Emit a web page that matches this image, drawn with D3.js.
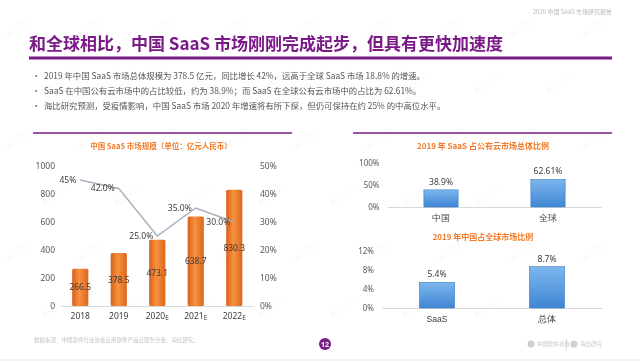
<!DOCTYPE html>
<html>
<head>
<meta charset="utf-8">
<script src="https://cdn.jsdelivr.net/npm/d3@7"></script>
<style>
  body { margin: 0; background: #fff; }
  svg { display: block; font-family: "Noto Sans CJK SC", "Noto Sans", sans-serif; }
</style>
</head>
<body>
<div id="chart"></div>
<script>
// data
var years = ["2018", "2019", "2020", "2021", "2022"];
var yearSuffix = ["", "", "E", "E", "E"];
var marketSize = [266.5, 378.5, 473.1, 638.7, 830.3];
var growth = [45, 42.0, 25.0, 35.0, 30.0];
var growthLabels = ["45%", "42.0%", "25.0%", "35.0%", "30.0%"];
var leftTicks = [0, 200, 400, 600, 800, 1000];
var rightTicks = [0, 10, 20, 30, 40, 50];

var cloudCats = ["中国", "全球"];
var cloudShare = [38.9, 62.61];
var cloudLabels = ["38.9%", "62.61%"];
var cloudTicks = [0, 50, 100];

var globalCats = ["SaaS", "总体"];
var globalShare = [5.4, 8.7];
var globalLabels = ["5.4%", "8.7%"];
var globalTicks = [0, 4, 8, 12];

var bullets = [
    "2019 年中国 SaaS 市场总体规模为 378.5 亿元，同比增长 42%，远高于全球 SaaS 市场 18.8% 的增速。",
    "SaaS 在中国公有云市场中的占比较低，约为 38.9%；而 SaaS 在全球公有云市场中的占比为 62.61%。",
    "海比研究预测，受疫情影响，中国 SaaS 市场 2020 年增速将有所下探，但仍可保持在约 25% 的中高位水平。"
];

var W = 640, H = 362;
var purple = "#7a1a86", orange = "#f07b2b", grey = "#595959";

var svg = d3.select("#chart").append("svg").attr("width", W).attr("height", H);

var defs = svg.append("defs");
var og = defs.append("linearGradient").attr("id", "orangeGrad").attr("x1", 0).attr("x2", 1).attr("y1", 0).attr("y2", 0);
og.append("stop").attr("offset", "0%").attr("stop-color", "#d9601a");
og.append("stop").attr("offset", "45%").attr("stop-color", "#f7923f");
og.append("stop").attr("offset", "100%").attr("stop-color", "#dc651c");
var bg = defs.append("linearGradient").attr("id", "blueGrad").attr("x1", 0).attr("x2", 0).attr("y1", 0).attr("y2", 1);
bg.append("stop").attr("offset", "0%").attr("stop-color", "#7db6ee");
bg.append("stop").attr("offset", "100%").attr("stop-color", "#3f86d4");

// faint watermark (kept inside the picture)
var wm = svg.append("g").attr("fill", "#000").attr("opacity", 0.035).style("font-size", "8px");
for (var wy = 40; wy < H - 5; wy += 56) {
    for (var wx = 8 + ((wy - 40) / 56 % 2) * 36; wx < W - 40; wx += 72) {
        wm.append("text").attr("transform", "translate(" + wx + "," + wy + ") rotate(-40)")
            .text("海比研究");
    }
}

// header
svg.append("text").attr("x", 612).attr("y", 14).attr("text-anchor", "end")
    .attr("fill", "#bbb").style("font-size", "6px").text("2020 中国 SaaS 市场研究报告");
svg.append("text").attr("x", 29).attr("y", 50).attr("fill", purple)
    .style("font-size", "17px").style("font-weight", "bold")
    .text("和全球相比，中国 SaaS 市场刚刚完成起步，但具有更快加速度");
svg.append("rect").attr("x", 29).attr("y", 56.5).attr("width", 583).attr("height", 3).attr("fill", purple);

var bl = svg.append("g").attr("fill", "#555").style("font-size", "8.4px");
bullets.forEach(function (t, i) {
    bl.append("text").attr("x", 32).attr("y", 79 + i * 15).text("•");
    bl.append("text").attr("x", 44).attr("y", 79 + i * 15).text(t);
});

// top separator lines of chart panels
svg.append("line").attr("x1", 33).attr("x2", 292).attr("y1", 133).attr("y2", 133).attr("stroke", purple).attr("stroke-width", 1.5);
svg.append("line").attr("x1", 353).attr("x2", 612).attr("y1", 133).attr("y2", 133).attr("stroke", purple).attr("stroke-width", 1.5);

// ---------- left chart ----------
var left = svg.append("g");
left.append("text").attr("x", 161).attr("y", 149).attr("text-anchor", "middle")
    .attr("fill", orange).style("font-size", "7.5px").style("font-weight", "bold")
    .text("中国 SaaS 市场规模（单位：亿元人民币）");

var x = d3.scaleBand().domain(years).range([61, 253.5]).paddingInner(0.58).paddingOuter(0.29);
var y = d3.scaleLinear().domain([0, 1000]).range([306, 166]);
var y2 = d3.scaleLinear().domain([0, 50]).range([306, 166]);

var yAxis = d3.axisLeft(y).tickValues(leftTicks).tickSize(0).tickPadding(6).tickFormat(d3.format("d"));
var gy = left.append("g").attr("transform", "translate(61,0)").call(yAxis);
gy.select(".domain").remove();
gy.selectAll("text").attr("fill", grey).style("font-size", "8.5px").style("font-family", "Noto Sans, sans-serif");

var y2Axis = d3.axisRight(y2).tickValues(rightTicks).tickSize(0).tickPadding(8).tickFormat(function (d) { return d + "%"; });
var gy2 = left.append("g").attr("transform", "translate(252,0)").call(y2Axis);
gy2.select(".domain").remove();
gy2.selectAll("text").attr("fill", grey).style("font-size", "8.5px").style("font-family", "Noto Sans, sans-serif");

var xAxis = d3.axisBottom(x).tickSize(0).tickPadding(7);
var gx = left.append("g").attr("transform", "translate(0,306)").call(xAxis);
gx.select(".domain").attr("stroke", "#d9d9d9");
gx.selectAll("text").attr("fill", "#404040").style("font-size", "8.5px").style("font-family", "Noto Sans, sans-serif")
    .each(function (d, i) {
        if (yearSuffix[i]) {
            d3.select(this).append("tspan").attr("dy", "1px").style("font-size", "6.5px").text(yearSuffix[i]);
        }
    });

left.selectAll("rect.bar").data(marketSize).enter().append("rect")
    .attr("class", "bar")
    .attr("x", function (d, i) { return x(years[i]); })
    .attr("y", function (d) { return y(d); })
    .attr("width", x.bandwidth())
    .attr("height", function (d) { return y(0) - y(d); })
    .attr("rx", 1.5)
    .attr("fill", "url(#orangeGrad)");

left.selectAll("text.val").data(marketSize).enter().append("text")
    .attr("class", "val")
    .attr("x", function (d, i) { return x(years[i]) + x.bandwidth() / 2; })
    .attr("y", function (d) { return (y(d) + y(0)) / 2 + 3; })
    .attr("text-anchor", "middle")
    .attr("fill", "#3a3a3a").style("font-size", "8.5px").style("font-family", "Noto Sans, sans-serif")
    .text(function (d) { return d.toFixed(1); });

var line = d3.line()
    .x(function (d, i) { return x(years[i]) + x.bandwidth() / 2; })
    .y(function (d) { return y2(d); });
left.append("path").datum(growth).attr("d", line)
    .attr("fill", "none").attr("stroke", "#a6b0bd").attr("stroke-width", 1.5);

left.selectAll("text.gr").data(growth).enter().append("text")
    .attr("class", "gr")
    .attr("x", function (d, i) { return x(years[i]) + x.bandwidth() / 2 - 4; })
    .attr("y", function (d) { return y2(d) + 3; })
    .attr("text-anchor", "end")
    .attr("fill", "#404040").style("font-size", "8.5px").style("font-family", "Noto Sans, sans-serif")
    .text(function (d, i) { return growthLabels[i]; });

// ---------- right charts ----------
function smallBar(cfg) {
    var g = svg.append("g");
    g.append("text").attr("x", cfg.titleX).attr("y", cfg.titleY).attr("text-anchor", "middle")
        .attr("fill", orange).style("font-size", "8px").style("font-weight", "bold").text(cfg.title);
    var bx = d3.scaleBand().domain(cfg.cats).range(cfg.xr).paddingInner(0.68).paddingOuter(0.34);
    var by = d3.scaleLinear().domain([0, cfg.max]).range(cfg.yr);
    var ga = g.append("g").attr("transform", "translate(" + cfg.xr[0] + ",0)")
        .call(d3.axisLeft(by).tickValues(cfg.ticks).tickSize(0).tickPadding(8).tickFormat(function (d) { return d + "%"; }));
    ga.select(".domain").remove();
    ga.selectAll("text").attr("fill", grey).style("font-size", "8px").style("font-family", "Noto Sans, sans-serif");
    var gb = g.append("g").attr("transform", "translate(0," + cfg.yr[0] + ")")
        .call(d3.axisBottom(bx).tickSize(0).tickPadding(8));
    gb.select(".domain").attr("stroke", "#d9d9d9");
    gb.selectAll("text").attr("fill", "#404040").style("font-size", "8.5px");
    g.selectAll("rect.b").data(cfg.values).enter().append("rect")
        .attr("x", function (d, i) { return bx(cfg.cats[i]); })
        .attr("y", function (d) { return by(d); })
        .attr("width", bx.bandwidth())
        .attr("height", function (d) { return by(0) - by(d); })
        .attr("fill", "url(#blueGrad)").attr("stroke", "#3a7cc4").attr("stroke-width", 0.6);
    g.selectAll("text.v").data(cfg.values).enter().append("text")
        .attr("x", function (d, i) { return bx(cfg.cats[i]) + bx.bandwidth() / 2; })
        .attr("y", function (d) { return by(d) - 5; })
        .attr("text-anchor", "middle")
        .attr("fill", "#404040").style("font-size", "8.5px").style("font-family", "Noto Sans, sans-serif")
        .text(function (d, i) { return cfg.labels[i]; });
}

smallBar({
    title: "2019 年 SaaS 占公有云市场总体比例", titleX: 483, titleY: 149,
    cats: cloudCats, values: cloudShare, labels: cloudLabels, ticks: cloudTicks, max: 100,
    xr: [387.5, 601.5], yr: [207, 163]
});
smallBar({
    title: "2019 年中国占全球市场比例", titleX: 483, titleY: 240,
    cats: globalCats, values: globalShare, labels: globalLabels, ticks: globalTicks, max: 12,
    xr: [382, 602], yr: [308, 251]
});

// footer
svg.append("text").attr("x", 34).attr("y", 342).attr("fill", "#c4c4c4").style("font-size", "5.5px")
    .text("数据来源：中国软件行业协会应用软件产品云服务分会、海比研究。");
svg.append("circle").attr("cx", 325).attr("cy", 344).attr("r", 6).attr("fill", purple);
svg.append("text").attr("x", 325).attr("y", 346.5).attr("text-anchor", "middle").attr("fill", "#fff")
    .style("font-size", "7px").style("font-weight", "bold").style("font-family", "Noto Sans, sans-serif").text("12");
var logo = svg.append("g").attr("fill", "#c8c8c8").style("font-size", "5.5px");
logo.append("circle").attr("cx", 531).attr("cy", 344).attr("r", 3.5).attr("fill", "#d0d0d0");
logo.append("text").attr("x", 537).attr("y", 346).text("中国软件协会");
logo.append("line").attr("x1", 566).attr("x2", 566).attr("y1", 339).attr("y2", 350).attr("stroke", "#d0d0d0");
logo.append("circle").attr("cx", 574).attr("cy", 344).attr("r", 3.5).attr("fill", "#d0d0d0");
logo.append("text").attr("x", 580).attr("y", 346).text("海比研究");
svg.append("line").attr("x1", 0).attr("x2", W).attr("y1", 360).attr("y2", 360).attr("stroke", "#e6e6e6");
</script>
</body>
</html>
